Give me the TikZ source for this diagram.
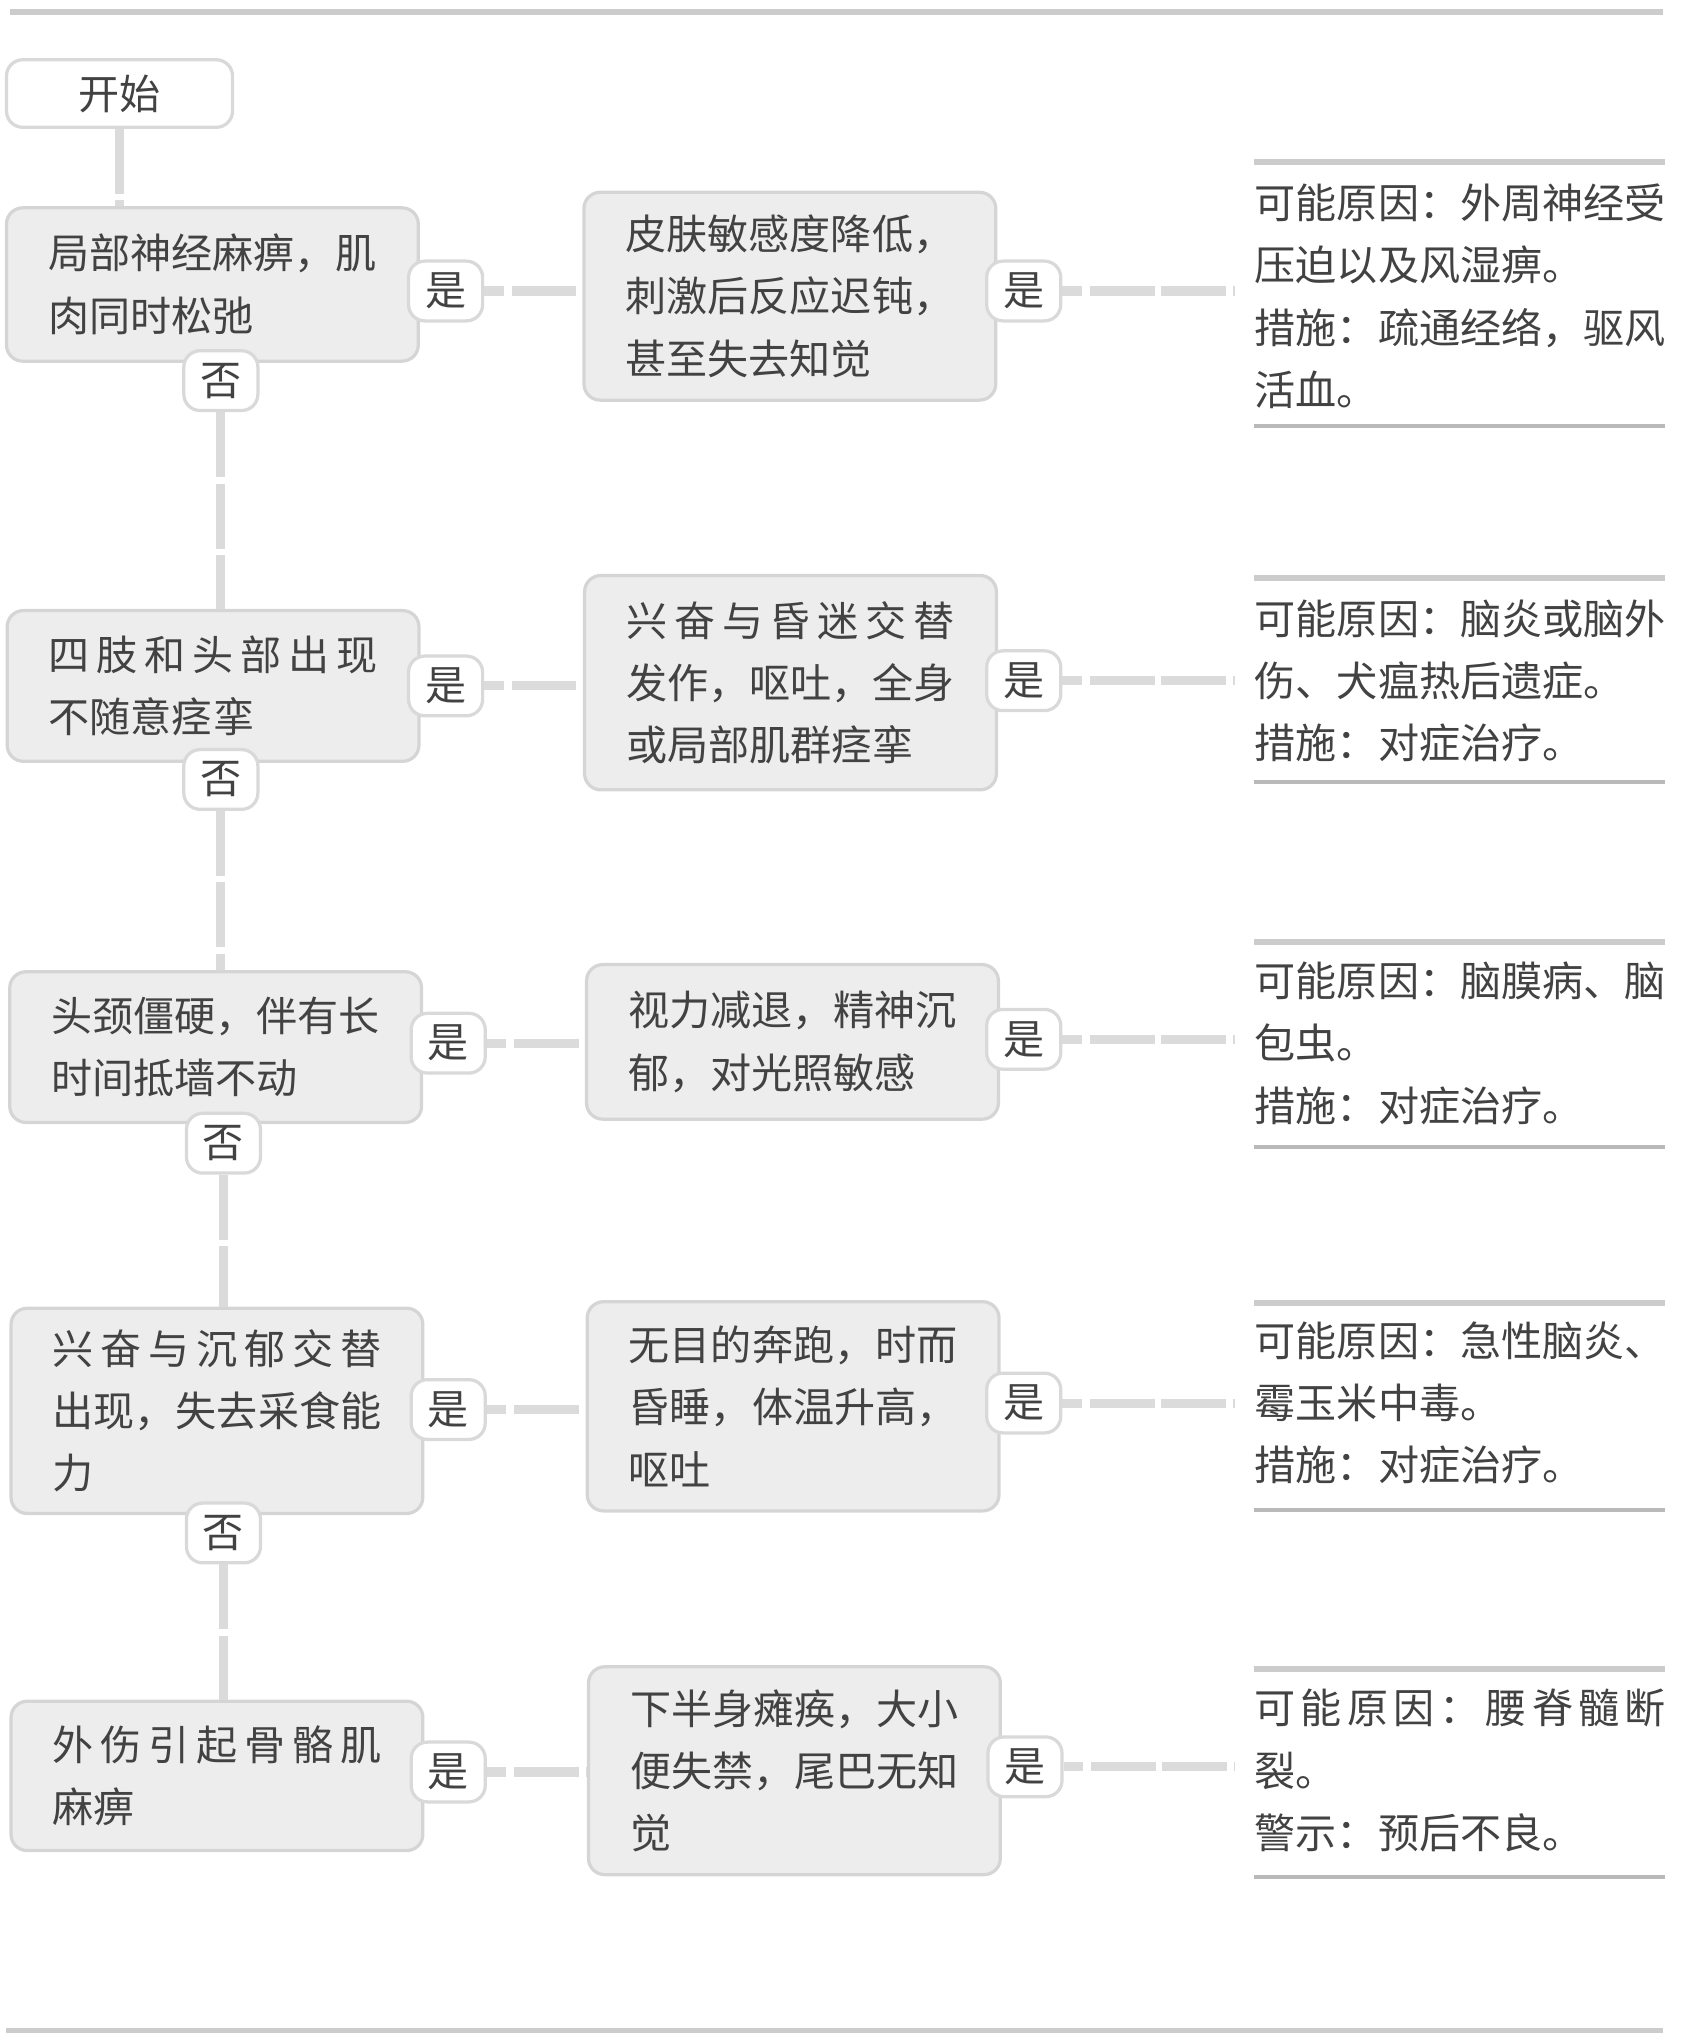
\documentclass[tikz,border=0pt]{standalone}
\usepackage{fontspec}
\newfontfamily\cjk{Noto Sans CJK SC}
\usetikzlibrary{positioning}

%% spread the characters of one line over a given width
\newcommand\spr[2][8em]{\makebox[#1][s]{\sprloop#2\relax\hskip 0pt plus -1fil}}
\def\sprloop#1{\ifx\relax#1\else#1\hfil\expandafter\sprloop\fi}

\tikzset{
  txt/.style={font=\cjk\fontsize{18}{27.3}\selectfont, text=black!74},
  sym/.style={txt, draw=gray!33, fill=gray!14, line width=0.5mm,
    rounded corners=2.5mm, text width=144pt, align=left, minimum width=63.4mm},
  tag/.style={txt, draw=gray!30, fill=white, line width=0.5mm,
    rounded corners=2.5mm, minimum width=11.4mm, minimum height=9.2mm, inner sep=0pt},
  cause/.style={txt, text width=180pt, align=left, inner sep=0pt},
  link/.style={draw=gray!28, line width=1.4mm},
  rule/.style={draw=gray!40, line width=0.9mm},
}

\begin{document}
\begin{tikzpicture}[x=0.2mm, y=-0.2mm]
  \useasboundingbox (0,0) rectangle (1303,1568);
  %% page rules
  \draw[rule] (8,9) -- (1280,9);
  \draw[rule] (5,1563) -- (1280,1563);

  %% Draw the nodes
  \node[tag, minimum width=34.8mm, minimum height=10.4mm] (start) at (92,72) {开始};
  \node[sym, minimum height=23.6mm] (Q1) at (163.5,219)
    {局部神经麻痹，肌\\肉同时松弛};
  \node[sym, minimum height=23.2mm] (Q2) at (164,528)
    {\spr{四肢和头部出现}\\不随意痉挛};
  \node[sym, minimum height=23.2mm] (Q3) at (166,806)
    {头颈僵硬，伴有长\\时间抵墙不动};
  \node[sym, minimum height=31.6mm] (Q4) at (167,1086)
    {\spr{兴奋与沉郁交替}\\出现，失去采食能\\力};
  \node[sym, minimum height=23mm] (Q5) at (167,1367)
    {\spr{外伤引起骨骼肌}\\麻痹};

  \node[sym, minimum height=32mm] (S1) at (608,228)
    {皮肤敏感度降低，\\刺激后反应迟钝，\\甚至失去知觉};
  \node[sym, minimum height=33mm] (S2) at (608.5,525.5)
    {\spr{兴奋与昏迷交替}\\发作，呕吐，全身\\或局部肌群痉挛};
  \node[sym, minimum height=23.8mm] (S3) at (610,802)
    {视力减退，精神沉\\郁，对光照敏感};
  \node[sym, minimum height=32.2mm] (S4) at (610.5,1082.5)
    {无目的奔跑，时而\\昏睡，体温升高，\\呕吐};
  \node[sym, minimum height=32mm] (S5) at (611.5,1363)
    {下半身瘫痪，大小\\便失禁，尾巴无知\\觉};

  %% Draw the causes
  \node[cause] (C1) at (1124,228)
    {可能原因：外周神经受\\压迫以及风湿痹。\\措施：疏通经络，驱风\\活血。};
  \node[cause] (C2) at (1124,524)
    {可能原因：脑炎或脑外\\伤、犬瘟热后遗症。\\措施：对症治疗。};
  \node[cause] (C3) at (1124,803)
    {可能原因：脑膜病、脑\\包虫。\\措施：对症治疗。};
  \node[cause] (C4) at (1124,1080)
    {可能原因：急性脑炎、\\霉玉米中毒。\\措施：对症治疗。};
  \node[cause] (C5) at (1124,1363)
    {\spr[10em]{可能原因：腰脊髓断}\\裂。\\警示：预后不良。};
  \foreach \t/\b in {125/328, 445/602, 725/883, 1003/1162, 1285/1445} {
    \draw[rule] (965,\t) -- (1282,\t);
    \draw[rule, draw=gray!55, line width=0.6mm] (965,\b) -- (1282,\b);
  }

  %% Draw the yes / no values
  \node[tag] (Y1) at (343,224) {是};
  \node[tag] (Y2) at (343,528) {是};
  \node[tag] (Y3) at (345,803) {是};
  \node[tag] (Y4) at (345,1085) {是};
  \node[tag] (Y5) at (345,1364) {是};
  \node[tag] (YY1) at (788,224) {是};
  \node[tag] (YY2) at (788,524) {是};
  \node[tag] (YY3) at (788,800) {是};
  \node[tag] (YY4) at (788,1080) {是};
  \node[tag] (YY5) at (789,1360) {是};
  \node[tag] (N1) at (170,293) {否};
  \node[tag] (N2) at (170,600) {否};
  \node[tag] (N3) at (172,880) {否};
  \node[tag] (N4) at (172,1180) {否};

  %% Draw the edges
  \begin{scope}[every path/.style={link, dash pattern=on 10mm off 1mm}]
    \draw (start.south) -- (start.south |- Q1.north);
    \draw (N1.south) -- (N1.south |- Q2.north);
    \draw (N2.south) -- (N2.south |- Q3.north);
    \draw (N3.south) -- (N3.south |- Q4.north);
    \draw (N4.south) -- (N4.south |- Q5.north);
  \end{scope}
  \begin{scope}[every path/.style={link, dash pattern=on 3mm off 1.2mm on 10mm off 1mm on 10mm off 1mm}]
    \draw (Y1.east) -- (Y1.east -| S1.west);
    \draw (Y2.east) -- (Y2.east -| S2.west);
    \draw (Y3.east) -- (Y3.east -| S3.west);
    \draw (Y4.east) -- (Y4.east -| S4.west);
    \draw (Y5.east) -- (Y5.east -| S5.west);
    \draw[shorten >=3mm] (YY1.east) -- (YY1.east -| C1.west);
    \draw[shorten >=3mm] (YY2.east) -- (YY2.east -| C2.west);
    \draw[shorten >=3mm] (YY3.east) -- (YY3.east -| C3.west);
    \draw[shorten >=3mm] (YY4.east) -- (YY4.east -| C4.west);
    \draw[shorten >=3mm] (YY5.east) -- (YY5.east -| C5.west);
  \end{scope}
\end{tikzpicture}
\end{document}
